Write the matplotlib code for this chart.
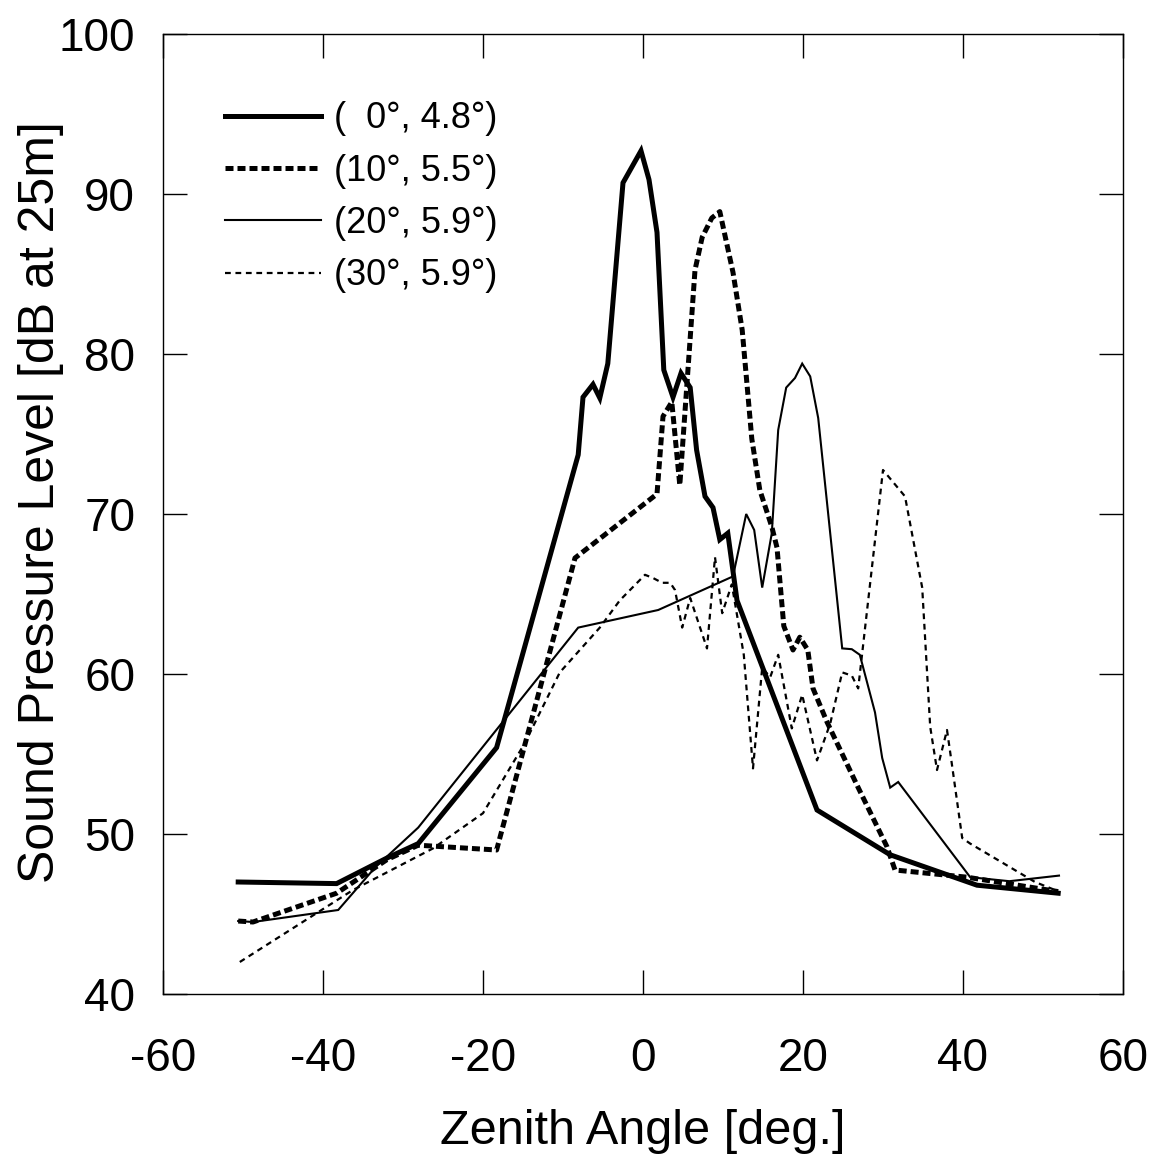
import numpy as np
import matplotlib.pyplot as plt

plt.rcParams['font.family'] = ['Liberation Sans', 'DejaVu Sans']
plt.rcParams['axes.unicode_minus'] = False

# (0 deg, 4.8 deg)
x0 = [-50.6, -38.3, -32.0, -28.1, -18.3, -8.1, -7.5, -6.25, -5.4, -4.4, -2.5, -0.25,
      0.75, 1.75, 2.6, 3.75, 4.75, 5.9, 6.7, 7.75, 8.75, 9.6, 10.6, 11.75, 21.75,
      30.9, 41.75, 51.9]
y0 = [47.0, 46.9, 48.5, 49.4, 55.4, 73.7, 77.3, 78.1, 77.25, 79.4, 90.7, 92.7,
      90.9, 87.6, 79.0, 77.3, 78.8, 77.9, 74.0, 71.1, 70.4, 68.4, 68.8, 64.6, 51.5,
      48.7, 46.8, 46.3]

# (10 deg, 5.5 deg)
x1 = [-50.6, -48.75, -38.3, -32.0, -28.1, -18.3, -8.5, 1.75, 2.5, 3.6, 4.6, 6.5,
      7.4, 8.6, 9.6, 11.25, 12.4, 13.6, 14.6, 16.1, 16.75, 17.6, 18.75, 19.6, 20.6,
      21.25, 23.0, 26.9, 30.5, 31.5, 40.5, 51.9]
y1 = [44.56, 44.5, 46.3, 48.4, 49.3, 49.0, 67.25, 71.25, 76.1, 77.0, 71.8, 85.25,
      87.3, 88.5, 88.9, 85.1, 81.5, 74.7, 71.5, 69.2, 67.9, 63.0, 61.5, 62.3, 61.5,
      59.1, 57.0, 52.9, 49.2, 47.75, 47.3, 46.4]

# (20 deg, 5.9 deg)
x2 = [-50.6, -48.75, -38.1, -33.5, -28.1, -8.1, 1.9, 11.25, 12.9, 13.9, 14.9, 16.1,
      16.9, 17.9, 19.0, 19.9, 20.9, 21.9, 24.9, 26.1, 27.1, 29.0, 29.9, 30.9, 31.9,
      40.9, 45.8, 52.0]
y2 = [44.56, 44.5, 45.25, 47.9, 50.4, 62.9, 64.0, 66.1, 70.0, 69.0, 65.4, 68.8,
      75.25, 77.9, 78.5, 79.4, 78.6, 76.0, 61.6, 61.55, 61.2, 57.6, 54.75, 52.9, 53.25,
      47.3, 47.05, 47.4]

# (30 deg, 5.9 deg)
x3 = [-50.4, -36.25, -26.25, -20.0, -14.75, -10.4, -5.4, -2.9, 0.25, 1.25, 2.4, 3.4,
      4.0, 4.9, 5.9, 8.0, 9.0, 9.9, 11.1, 12.6, 13.75, 14.9, 15.9, 16.9, 18.6, 19.9,
      21.75, 23.4, 24.9, 26.1, 26.9, 30.0, 32.75, 34.9, 35.9, 36.75, 38.0, 38.6, 39.9,
      40.9, 49.0, 51.5]
y3 = [42.0, 46.5, 49.1, 51.3, 55.7, 60.1, 62.9, 64.6, 66.2, 66.0, 65.7, 65.7,
      65.25, 62.9, 64.75, 61.6, 67.3, 63.8, 65.6, 61.2, 54.1, 60.4, 59.8, 61.2, 56.6, 58.7,
      54.6, 56.9, 60.1, 59.9, 59.1, 72.75, 71.1, 65.4, 56.7, 54.0, 56.5, 54.4, 49.75,
      49.4, 47.0, 46.5]

labels = ['(  0°, 4.8°)', '(10°, 5.5°)', '(20°, 5.9°)', '(30°, 5.9°)']

fig = plt.figure(figsize=(11.58, 11.64), dpi=100)
ax = fig.add_axes([163/1158, 1-994/1164, 960/1158, 960/1164])

ax.plot(x0, y0, color='black', lw=3.6, solid_joinstyle='miter', label=labels[0])
ax.plot(x1, y1, color='black', lw=3.6, dashes=(1.6, 0.8), label=labels[1])
ax.plot(x2, y2, color='black', lw=1.5, solid_joinstyle='miter', label=labels[2])
ax.plot(x3, y3, color='black', lw=1.6, dashes=(2.6, 2.1), label=labels[3])

ax.set_xlim(-60, 60)
ax.set_ylim(40, 100)
ax.set_xticks(np.arange(-60, 61, 20))
ax.set_yticks(np.arange(40, 101, 10))
ax.tick_params(direction='in', length=17, width=1, top=True, right=True,
               labelsize=33)
ax.tick_params(axis='x', pad=31)
ax.tick_params(axis='y', pad=20)
for s in ax.spines.values():
    s.set_linewidth(1.0)

ax.set_xlabel('Zenith Angle [deg.]', fontsize=35, labelpad=20)
ax.set_ylabel('Sound Pressure Level [dB at 25m]', fontsize=36)
ax.yaxis.set_label_coords(-0.103, 0.5125)

ax.legend(loc='upper left', bbox_to_anchor=(0.05, 0.945), frameon=False,
          fontsize=26, handlelength=2.64, handletextpad=0.36, labelspacing=0.48,
          borderaxespad=0)

plt.savefig('out.png', dpi=100)
